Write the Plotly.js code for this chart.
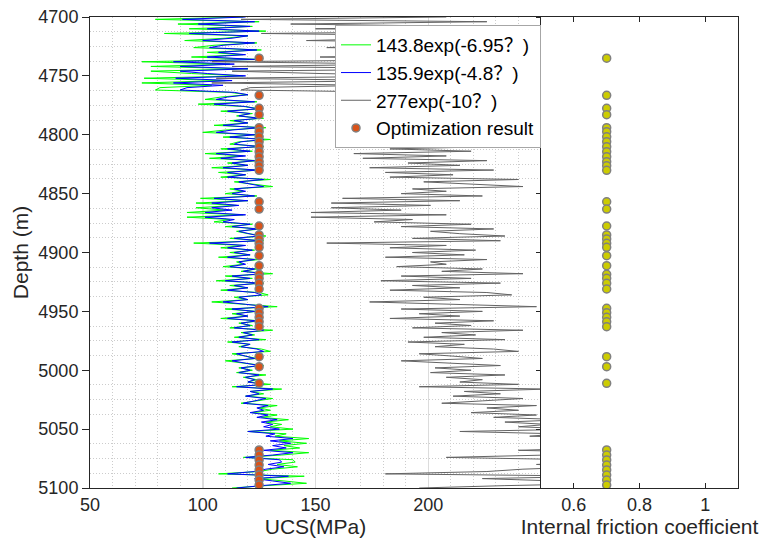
<!DOCTYPE html>
<html>
<head>
<meta charset="utf-8">
<script src="https://cdn.plot.ly/plotly-3.0.1.min.js"></script>
<style>html,body{margin:0;padding:0;background:#fff;}#chart{width:764px;height:541px;}</style>
</head>
<body>
<div id="chart"></div>
<script>
const depth = [
4700,4702,4704,4706,4708,4710,4712,4714,4716,4718,
4720,4722,4724,4726,4728,4730,4732,4734,4736,4738,
4740,4742,4744,4746,4748,4750,4752,4754,4756,4758,
4760,4762,4764,4766,4768,4770,4772,4774,4776,4778,
4780,4782,4784,4786,4788,4790,4792,4794,4796,4798,
4800,4802,4804,4806,4808,4810,4812,4814,4816,4818,
4820,4822,4824,4826,4828,4830,4832,4834,4836,4838,
4840,4842,4844,4846,4848,4850,4852,4854,4856,4858,
4860,4862,4864,4866,4868,4870,4872,4874,4876,4878,
4880,4882,4884,4886,4888,4890,4892,4894,4896,4898,
4900,4902,4904,4906,4908,4910,4912,4914,4916,4918,
4920,4922,4924,4926,4928,4930,4932,4934,4936,4938,
4940,4942,4944,4946,4948,4950,4952,4954,4956,4958,
4960,4962,4964,4966,4968,4970,4972,4974,4976,4978,
4980,4982,4984,4986,4988,4990,4992,4994,4996,4998,
5000,5002,5004,5006,5008,5010,5012,5014,5016,5018,
5020,5022,5024,5026,5028,5030,5032,5034,5036,5038,
5040,5042,5044,5046,5048,5050,5052,5054,5056,5058,
5060,5062,5064,5066,5068,5070,5072,5074,5076,5078,
5080,5082,5084,5086,5088,5090,5092,5094,5096,5098,
5100];

const ucsGreen = [
118,79,125,89,122,94,128,83,120,110,
92,124,105,96,126,102,118,95,125,73,
112,77,120,77,95,118,74,110,73,104,
81,79,112,120,108,101,124,98,118,126,
108,122,115,127,112,120,105,128,110,100,
124,109,130,116,112,127,108,122,101,118,
103,125,111,120,104,126,107,119,108,130,
114,122,131,112,118,110,124,99,120,97,
115,97,110,93,118,93,112,105,122,110,
126,115,120,128,112,127,96,118,108,123,
112,121,107,125,115,118,109,124,117,131,
110,122,106,127,112,120,108,125,129,114,
120,104,118,133,110,124,113,120,108,126,
116,122,112,131,117,123,114,128,111,121,
116,126,130,113,119,124,110,120,127,116,
122,115,128,118,124,120,130,113,135,121,
127,119,131,124,117,133,125,130,122,133,
126,138,128,135,130,140,120,137,132,147,
134,146,136,143,130,147,135,118,140,141,
133,142,131,125,107,145,124,136,146,128,
113];

const ucsBlue = [
119,91,123,98,121,102,125,94,120,113,
100,123,109,103,124,107,119,102,123,87,
114,90,120,90,102,119,88,113,87,109,
93,90,114,120,111,106,123,105,119,124,
111,121,116,125,114,120,109,125,113,106,
123,112,127,117,114,125,111,121,106,119,
108,123,113,120,109,124,111,119,111,127,
116,121,127,114,119,113,123,105,120,104,
116,104,113,101,119,101,114,109,121,113,
124,116,120,125,114,125,103,119,111,122,
114,121,111,123,116,119,112,123,118,127,
113,121,110,125,114,120,111,123,126,116,
120,109,119,129,113,123,115,120,111,124,
117,121,114,127,118,122,116,125,113,121,
117,124,127,115,119,123,113,120,125,117,
121,116,125,119,123,120,127,115,131,121,
125,119,128,123,118,129,124,127,121,129,
124,133,126,131,127,134,120,132,128,140,
130,139,131,137,127,140,131,119,134,135,
129,136,128,123,111,138,123,131,139,126,
115];

const ucsGray = [
208,117,226,139,219,150,234,126,214,188,
146,224,176,155,229,169,208,152,226,104,
193,113,214,113,152,208,106,188,104,174,
121,117,193,214,183,167,224,160,208,229,
183,219,201,232,193,214,176,234,188,164,
224,186,240,203,193,232,183,219,167,208,
171,226,191,214,174,229,181,211,183,240,
198,219,242,193,208,188,224,162,214,157,
201,157,188,148,208,148,193,176,219,188,
229,201,214,234,193,232,155,208,183,221,
193,216,181,226,201,208,186,224,206,242,
188,219,179,232,193,214,183,226,237,198,
214,174,208,248,188,224,196,214,183,229,
203,219,193,242,206,221,198,234,191,216,
203,229,240,196,211,224,188,214,232,203,
219,201,234,208,224,214,240,196,253,216,
232,211,242,224,206,248,226,240,219,248,
229,261,234,253,240,267,214,258,245,286,
250,283,256,275,240,286,253,208,267,269,
248,272,242,226,181,280,224,256,283,234,
196];

const optDepth = [4735,4766.5,4777.5,4783,4794,4797.4,4801.7,4805.9,4810.1,4814.4,4818.6,4822.9,4826.3,4830.2,
4856.9,4863.1,4877.5,4885.1,4888.5,4892.2,4895.6,4902.7,4911.2,4918.5,4921.9,4926.2,4931,
4947.4,4951.1,4955,4958.8,4963,4988.5,4997,5011.1,
5067.7,5072,5076.2,5080.5,5084.7,5089,5093.2,5097.5];
const optUCS = [125,125,125,125,125,125,125,125,125,125,125,125,125,125,
125,125,125,125,125,125,125,125,125,125,125,125,125,
125,125,125,125,125,125,125,125,
125,125,125,125,125,125,125,125];
const optFriction = [0.7,0.7,0.7,0.7,0.7,0.7,0.7,0.7,0.7,0.7,0.7,0.7,0.7,0.7,
0.7,0.7,0.7,0.7,0.7,0.7,0.7,0.7,0.7,0.7,0.7,0.7,0.7,
0.7,0.7,0.7,0.7,0.7,0.7,0.7,0.7,
0.7,0.7,0.7,0.7,0.7,0.7,0.7,0.7];

const names = ['143.8exp(-6.95？)','135.9exp(-4.8？)','277exp(-10？)','Optimization result'];
const ucsTicks = [50,100,150,200];

const FONT = 'Liberation Sans, Arial, Helvetica, Noto Sans CJK SC, sans-serif';
const W = 764, H = 541;
const xL0 = 90/W, xL1 = 541/W, xR1 = 738/W;
const yB = (H-488)/H, yT = (H-17)/H;

const traces = [
  {x: ucsGreen, y: depth, type:'scatter', mode:'lines', name: names[0],
   line:{color:'#00FF00', width:1}, xaxis:'x', yaxis:'y'},
  {x: ucsBlue, y: depth, type:'scatter', mode:'lines', name: names[1],
   line:{color:'#0000FF', width:1}, xaxis:'x', yaxis:'y'},
  {x: ucsGray, y: depth, type:'scatter', mode:'lines', name: names[2],
   line:{color:'#646464', width:1}, xaxis:'x', yaxis:'y'},
  {x: optUCS, y: optDepth, type:'scatter', mode:'markers', name: names[3],
   marker:{color:'#D95319', size:8, line:{color:'#808080', width:1.5}}, xaxis:'x', yaxis:'y'},
  {x: optFriction, y: optDepth, type:'scatter', mode:'markers', showlegend:false,
   marker:{color:'#CCCC00', size:8, line:{color:'#808080', width:1.5}}, xaxis:'x2', yaxis:'y2'}
];

const axisFont = {family: FONT, size: 18, color:'#262626'};
const titleFont = {family: FONT, size: 21, color:'#262626'};
const minorGrid = {showgrid:true, gridcolor:'#cccccc', griddash:'1px,2px', gridwidth:1};

const layout = {
  width: W, height: H,
  margin:{l:0, r:0, t:0, b:0},
  paper_bgcolor:'#ffffff', plot_bgcolor:'#ffffff',
  font:{family: FONT, color:'#262626'},
  showlegend: true,
  legend:{x: xL1, xanchor:'right', y: (H-25)/H, yanchor:'top',
    bgcolor:'#ffffff', bordercolor:'#a6a6a6', borderwidth:1,
    font:{family: FONT, size:19, color:'#000000'}, tracegroupgap:0},
  xaxis:{domain:[xL0, xL1], range:[50,250], anchor:'y',
    tickmode:'array', tickvals: ucsTicks, ticks:'', tickfont: axisFont,
    showgrid:true, gridcolor:'#dcdcdc', gridwidth:1.5,
    minor:Object.assign({dtick:10, tick0:50}, minorGrid),
    showline:true, linecolor:'#262626', linewidth:1, mirror:true, zeroline:false,
    title:{text:'UCS(MPa)', font: titleFont, standoff:4}},
  yaxis:{domain:[yB, yT], range:[5100,4700], anchor:'x',
    tick0:4700, dtick:50, ticks:'outside', ticklen:7, tickcolor:'#262626', tickfont: axisFont,
    showgrid:false,
    minor:Object.assign({dtick:12.5, tick0:4700}, minorGrid),
    showline:true, linecolor:'#262626', linewidth:1, zeroline:false,
    title:{text:'Depth (m)', font: titleFont, standoff:4}},
  xaxis2:{domain:[xL1, xR1], range:[0.5,1.1], anchor:'y2',
    tick0:0, dtick:0.2, ticks:'inside', ticklen:5, tickcolor:'#262626', tickfont: axisFont,
    showgrid:false, showline:true, linecolor:'#262626', linewidth:1, mirror:'ticks', zeroline:false,
    title:{text:'Internal friction coefficient', font: titleFont, standoff:4}},
  yaxis2:{domain:[yB, yT], range:[5100,4700], anchor:'x2',
    tick0:4700, dtick:50, ticks:'outside', ticklen:4, tickcolor:'#262626',
    showticklabels:false, showgrid:false,
    showline:true, linecolor:'#262626', linewidth:1, mirror:true, zeroline:false}
};

Plotly.newPlot('chart', traces, layout, {staticPlot:true, displayModeBar:false});
</script>
</body>
</html>
